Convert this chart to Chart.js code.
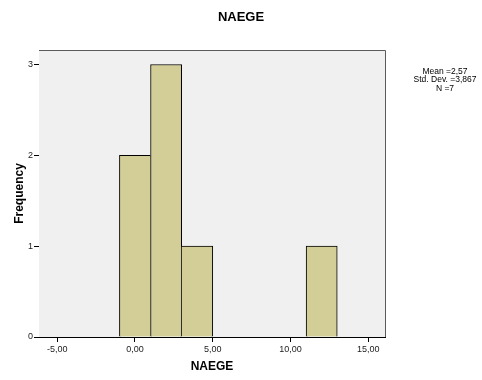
<!DOCTYPE html>
<html>
<head>
<meta charset="utf-8">
<script src="https://cdn.jsdelivr.net/npm/chart.js@4"></script>
<style>
  body { margin: 0; background: #fff; }
</style>
</head>
<body>
<canvas id="myChart" width="482" height="380"></canvas>
<script>
// histogram bins (centers, width 2) and counts
var binCenters = [0, 2, 4, 12];
var binCounts = [2, 3, 1, 1];
var binWidth = 2;
var xTicks = [-5, 0, 5, 10, 15];
var yTicks = [0, 1, 2, 3];
var chartTitle = 'NAEGE';
var statLines = ['Mean =2,57', 'Std. Dev. =3,867', 'N =7'];

var points = binCenters.map(function (c, i) { return { x: c, y: binCounts[i] }; });

// gray plot background + gray frame like SPSS, title centered on the whole canvas
var plotFrame = {
    id: 'plotFrame',
    beforeDatasetsDraw: function (chart) {
        var a = chart.chartArea, ctx = chart.ctx;
        ctx.save();
        ctx.fillStyle = '#f0f0f0';
        ctx.fillRect(a.left, a.top, a.right - a.left, a.bottom - a.top);
        ctx.restore();
    },
    afterDraw: function (chart) {
        var a = chart.chartArea, ctx = chart.ctx;
        ctx.save();
        ctx.strokeStyle = '#5a5a5a';
        ctx.lineWidth = 1;
        ctx.beginPath();
        ctx.moveTo(a.left, a.top + 0.5);
        ctx.lineTo(a.right + 0.5, a.top + 0.5);
        ctx.lineTo(a.right + 0.5, a.bottom);
        ctx.stroke();

        ctx.fillStyle = '#000';
        ctx.textAlign = 'center';
        ctx.textBaseline = 'middle';
        ctx.font = 'bold 13px Arial, "Liberation Sans", sans-serif';
        ctx.fillText(chartTitle, chart.width / 2, 17.5);

        // stats text on the right
        ctx.font = '8.5px Arial, "Liberation Sans", sans-serif';
        statLines.forEach(function (t, i) { ctx.fillText(t, 445, 71.5 + i * 8.5); });
        ctx.restore();
    }
};

var ctx = document.getElementById('myChart').getContext('2d');

var myChart = new Chart(ctx, {
    type: 'bar',
    data: {
        datasets: [{
            data: points,
            backgroundColor: '#d3ce98',
            borderColor: '#000',
            // one shared edge between touching bars, drawn by the taller one
            borderWidth: function (c) {
                var i = c.dataIndex;
                var nextJoined = i + 1 < binCenters.length && binCenters[i + 1] - binCenters[i] === binWidth;
                var prevJoined = i > 0 && binCenters[i] - binCenters[i - 1] === binWidth;
                return {
                    top: 1,
                    left: (prevJoined && binCounts[i - 1] > binCounts[i]) ? 0 : 1,
                    right: (nextJoined && binCounts[i + 1] >= binCounts[i]) ? 0 : 1,
                    bottom: 0
                };
            },
            borderSkipped: false,
            barPercentage: 1,
            categoryPercentage: 1
        }]
    },
    plugins: [plotFrame],
    options: {
        responsive: false,
        animation: false,
        devicePixelRatio: 1,
        layout: { padding: { left: 0, right: 97, top: 50, bottom: 0 } },
        plugins: {
            legend: { display: false },
            tooltip: { enabled: false },
            title: { display: false }
        },
        scales: {
            x: {
                type: 'linear',
                min: -6.17,
                max: 16.07,
                bounds: 'data',
                offset: false,
                grid: { offset: false, drawOnChartArea: false, drawTicks: true, tickLength: 5, tickColor: '#000' },
                border: { display: true, color: '#000', width: 1 },
                afterBuildTicks: function (scale) {
                    scale.ticks = xTicks.map(function (v) { return { value: v }; });
                },
                ticks: {
                    padding: 2,
                    color: '#222',
                    font: { family: 'Arial, "Liberation Sans", sans-serif', size: 9 },
                    callback: function (v) { return v.toFixed(2).replace('.', ','); }
                },
                title: {
                    display: true,
                    text: 'NAEGE',
                    color: '#000',
                    font: { family: 'Arial, "Liberation Sans", sans-serif', size: 12, weight: 'bold' },
                    padding: { top: 0, bottom: 6 }
                },
                afterFit: function (scale) { scale.height = 43; }
            },
            y: {
                min: 0,
                max: 3.16,
                bounds: 'data',
                grid: { drawOnChartArea: false, drawTicks: true, tickLength: 5, tickColor: '#000' },
                border: { display: true, color: '#000', width: 1 },
                afterBuildTicks: function (scale) {
                    scale.ticks = yTicks.map(function (v) { return { value: v }; });
                },
                ticks: {
                    padding: 1,
                    color: '#222',
                    font: { family: 'Arial, "Liberation Sans", sans-serif', size: 9 }
                },
                title: {
                    display: true,
                    text: 'Frequency',
                    color: '#000',
                    font: { family: 'Arial, "Liberation Sans", sans-serif', size: 12, weight: 'bold' },
                    padding: { top: 12, bottom: 0 }
                },
                afterFit: function (scale) { scale.width = 39; }
            }
        }
    }
});
</script>
</body>
</html>
